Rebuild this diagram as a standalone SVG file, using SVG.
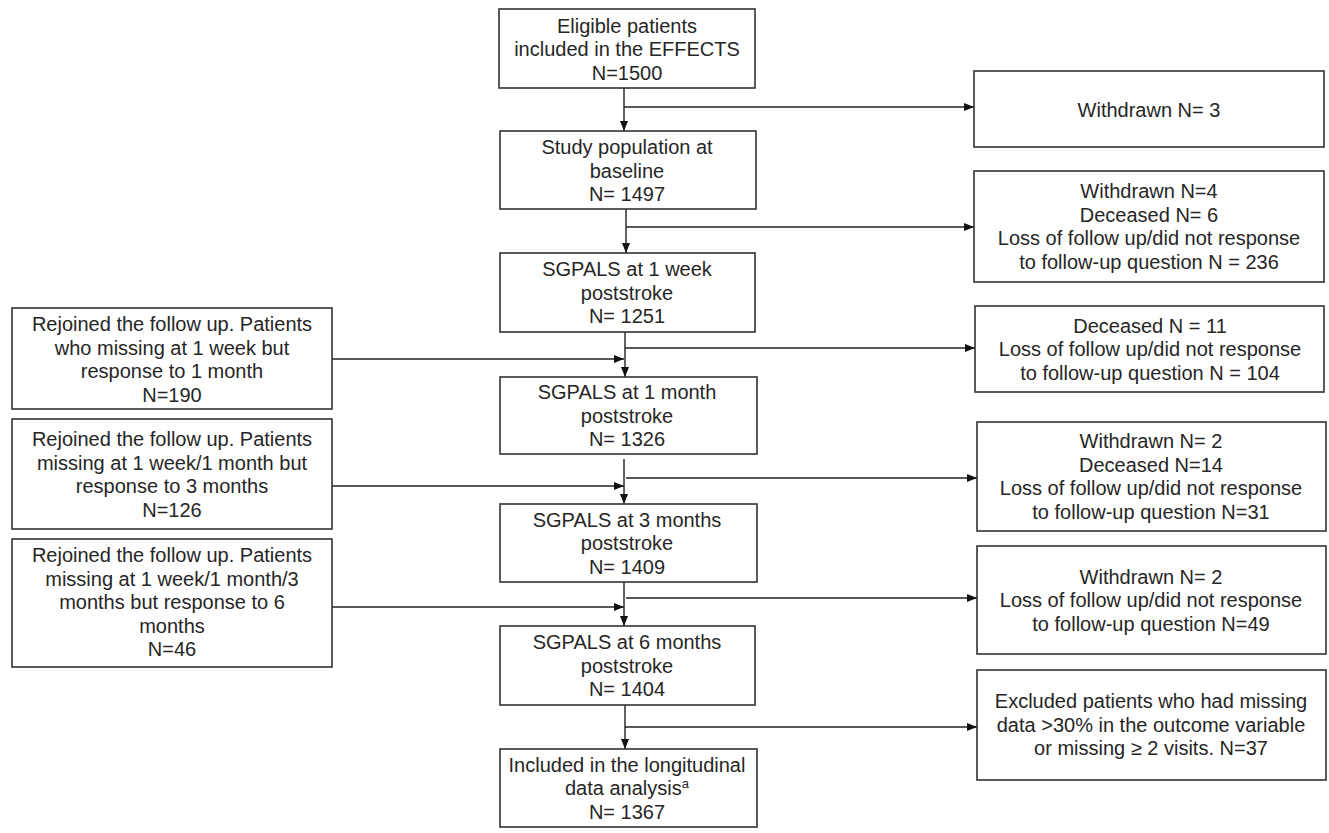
<svg xmlns="http://www.w3.org/2000/svg" width="1329" height="833" viewBox="0 0 1329 833">
<defs>
<style>
.box{fill:#fff;stroke:#333;stroke-width:1.6}
.t{font-family:"Liberation Sans",Arial,sans-serif;font-size:20px;fill:#262626;text-anchor:middle}
.c{fill:none;stroke:#222;stroke-width:1.4}
</style>
<marker id="ah" viewBox="0 0 10 10" refX="10" refY="5" markerWidth="10" markerHeight="10" markerUnits="userSpaceOnUse" orient="auto">
<path d="M0,1 L10,5 L0,9 Z" fill="#111"/>
</marker>
</defs>
<rect width="1329" height="833" fill="#fff"/>

<g id="connectors">
<path class="c" d="M624,88 V131" marker-end="url(#ah)"/>
<path class="c" d="M624,107 H974" marker-end="url(#ah)"/>
<path class="c" d="M626,209 V253" marker-end="url(#ah)"/>
<path class="c" d="M626,227 H974" marker-end="url(#ah)"/>
<path class="c" d="M625,332 V377" marker-end="url(#ah)"/>
<path class="c" d="M625,348 H975" marker-end="url(#ah)"/>
<path class="c" d="M332,359 H624" marker-end="url(#ah)"/>
<path class="c" d="M624,459 V504" marker-end="url(#ah)"/>
<path class="c" d="M626,478 H977" marker-end="url(#ah)"/>
<path class="c" d="M332,486 H624" marker-end="url(#ah)"/>
<path class="c" d="M624,582 V626" marker-end="url(#ah)"/>
<path class="c" d="M626,598 H977" marker-end="url(#ah)"/>
<path class="c" d="M332,607 H624" marker-end="url(#ah)"/>
<path class="c" d="M625,705 V749" marker-end="url(#ah)"/>
<path class="c" d="M625,727 H977" marker-end="url(#ah)"/>
</g>

<g id="eligible">
<rect class="box" x="499" y="9" width="256" height="79"/>
<text class="t" x="627" y="32.5">Eligible patients</text>
<text class="t" x="627" y="56">included in the EFFECTS</text>
<text class="t" x="627" y="79.5">N=1500</text>
</g>

<g id="baseline">
<rect class="box" x="500" y="131" width="256" height="78"/>
<text class="t" x="627" y="154">Study population at</text>
<text class="t" x="627" y="177.5">baseline</text>
<text class="t" x="627" y="201">N= 1497</text>
</g>

<g id="week1">
<rect class="box" x="500" y="253" width="255" height="79"/>
<text class="t" x="627" y="276">SGPALS at 1 week</text>
<text class="t" x="627" y="299.5">poststroke</text>
<text class="t" x="627" y="323">N= 1251</text>
</g>

<g id="month1">
<rect class="box" x="500" y="377" width="257" height="77"/>
<text class="t" x="627" y="399">SGPALS at 1 month</text>
<text class="t" x="627" y="422.5">poststroke</text>
<text class="t" x="627" y="446">N= 1326</text>
</g>

<g id="month3">
<rect class="box" x="500" y="504" width="257" height="78"/>
<text class="t" x="627" y="526.5">SGPALS at 3 months</text>
<text class="t" x="627" y="550">poststroke</text>
<text class="t" x="627" y="573.5">N= 1409</text>
</g>

<g id="month6">
<rect class="box" x="500" y="626" width="255" height="79"/>
<text class="t" x="627" y="649">SGPALS at 6 months</text>
<text class="t" x="627" y="672.5">poststroke</text>
<text class="t" x="627" y="696">N= 1404</text>
</g>

<g id="included">
<rect class="box" x="500" y="749" width="257" height="78"/>
<text class="t" x="627" y="771.5">Included  in the longitudinal</text>
<text class="t" x="627" y="795">data analysis<tspan font-size="13" dy="-7">a</tspan></text>
<text class="t" x="627" y="818.5">N= 1367</text>
</g>

<g id="rejoin1">
<rect class="box" x="12" y="308" width="320" height="101"/>
<text class="t" x="172" y="331">Rejoined the follow up. Patients</text>
<text class="t" x="172" y="354.5">who missing at 1 week but</text>
<text class="t" x="172" y="378">response to 1 month</text>
<text class="t" x="172" y="401.5">N=190</text>
</g>

<g id="rejoin3">
<rect class="box" x="12" y="419" width="320" height="110"/>
<text class="t" x="172" y="446">Rejoined the follow up. Patients</text>
<text class="t" x="172" y="469.5">missing at 1 week/1 month but</text>
<text class="t" x="172" y="493">response to 3 months</text>
<text class="t" x="172" y="516.5">N=126</text>
</g>

<g id="rejoin6">
<rect class="box" x="12" y="539" width="320" height="128"/>
<text class="t" x="172" y="562">Rejoined the follow up. Patients</text>
<text class="t" x="172" y="585.5">missing at 1 week/1 month/3</text>
<text class="t" x="172" y="609">months but response to 6</text>
<text class="t" x="172" y="632.5">months</text>
<text class="t" x="172" y="656">N=46</text>
</g>

<g id="excl1">
<rect class="box" x="974" y="71" width="350" height="76"/>
<text class="t" x="1149" y="116.5">Withdrawn  N= 3</text>
</g>

<g id="excl2">
<rect class="box" x="974" y="171" width="350" height="111"/>
<text class="t" x="1149" y="198">Withdrawn  N=4</text>
<text class="t" x="1149" y="221.5">Deceased N= 6</text>
<text class="t" x="1149" y="245">Loss of follow up/did not response</text>
<text class="t" x="1149" y="268.5">to follow-up  question N = 236</text>
</g>

<g id="excl3">
<rect class="box" x="975" y="306" width="349" height="86"/>
<text class="t" x="1150" y="332.5">Deceased N = 11</text>
<text class="t" x="1150" y="356">Loss of follow up/did not response</text>
<text class="t" x="1150" y="379.5">to follow-up  question N = 104</text>
</g>

<g id="excl4">
<rect class="box" x="977" y="422" width="349" height="109"/>
<text class="t" x="1151" y="448">Withdrawn  N= 2</text>
<text class="t" x="1151" y="471.5">Deceased N=14</text>
<text class="t" x="1151" y="495">Loss of follow up/did not response</text>
<text class="t" x="1151" y="518.5">to follow-up  question N=31</text>
</g>

<g id="excl5">
<rect class="box" x="977" y="546" width="349" height="108"/>
<text class="t" x="1151" y="583.5">Withdrawn  N= 2</text>
<text class="t" x="1151" y="607">Loss of follow up/did not response</text>
<text class="t" x="1151" y="630.5">to follow-up  question N=49</text>
</g>

<g id="excl6">
<rect class="box" x="977" y="670" width="349" height="110"/>
<text class="t" x="1151" y="708">Excluded patients who had missing</text>
<text class="t" x="1151" y="731.5">data &gt;30% in the outcome variable</text>
<text class="t" x="1151" y="755">or missing ≥ 2 visits. N=37</text>
</g>
</svg>
